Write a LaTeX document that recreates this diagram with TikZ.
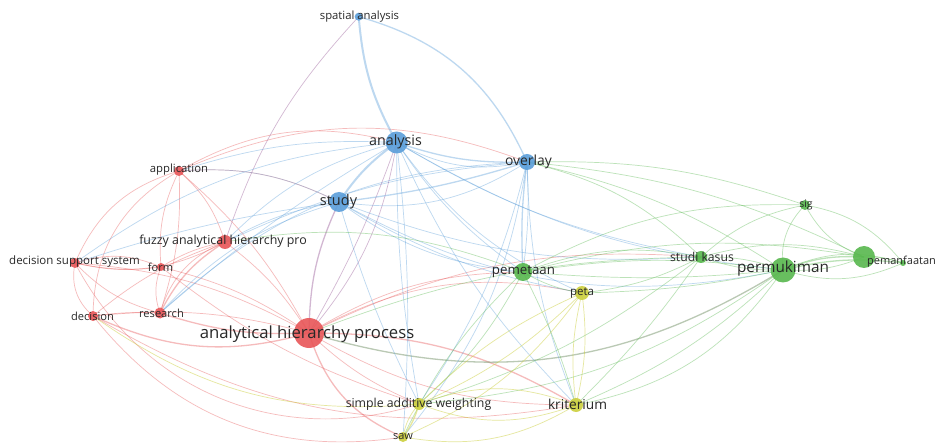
\documentclass[tikz,border=0pt]{standalone}
\usepackage{fontspec}
\setmainfont{Open Sans}
\definecolor{vr}{RGB}{232,86,88}
\definecolor{vb}{RGB}{90,158,218}
\definecolor{vg}{RGB}{88,184,78}
\definecolor{vy}{RGB}{204,208,62}
\definecolor{vgr}{RGB}{140,165,130}
\definecolor{txt}{RGB}{40,40,40}
\begin{document}
\begin{tikzpicture}[x=1pt,y=-1pt,
  er/.style={draw=vr,opacity=0.4,line width=0.7pt},
  eb/.style={draw=vb,opacity=0.4,line width=0.7pt},
  eg/.style={draw=vg,opacity=0.4,line width=0.7pt},
  ey/.style={draw=vy,opacity=0.5,line width=0.7pt},
  ep/.style={draw=violet!60!gray,opacity=0.35,line width=0.7pt},
  egr/.style={draw=vgr,opacity=0.6,line width=0.7pt},
  thk/.style={line width=2pt},
  med/.style={line width=1.3pt},
  dot/.style={circle,inner sep=0pt,opacity=0.9},
  lbl/.style={text=txt,inner sep=0pt,font=\fontsize{11}{13}\selectfont}]
\useasboundingbox (0,0) rectangle (936,443);
\fill[white] (0,0) rectangle (936,443);
% positions
\coordinate (spa) at (358.7,16.7);
\coordinate (ana) at (396.7,142.5);
\coordinate (ove) at (527,162);
\coordinate (stu) at (339,202);
\coordinate (app) at (179,171);
\coordinate (fuz) at (225,242);
\coordinate (dss) at (75,263);
\coordinate (frm) at (161,267);
\coordinate (dec) at (93,316);
\coordinate (res) at (160,313);
\coordinate (ahp) at (309,333);
\coordinate (pem) at (523,272);
\coordinate (pet) at (582,293);
\coordinate (stk) at (701,257);
\coordinate (per) at (783,270);
\coordinate (sig) at (805,205);
\coordinate (big) at (864,257);
\coordinate (pmf) at (903,263);
\coordinate (sw) at (419,404);
\coordinate (krt) at (576,405);
\coordinate (saw) at (403,437);
% ---------------- edges: red
\draw[er] (app) to[bend right=25] (dss);
\draw[er] (app) to[bend right=30] (dec);
\draw[er] (app) to[bend right=15] (frm);
\draw[er] (app) to[bend left=10] (res);
\draw[er] (app) to[bend left=15] (fuz);
\draw[er] (app) to[bend left=10] (ahp);
\draw[er] (app) to[bend left=15] (stu);
\draw[er] (app) to[bend left=22] (ove);
\draw[er] (app) to[bend left=22] (ana);
\draw[er] (fuz) to[bend left=20] (dss);
\draw[er] (fuz) to[bend right=10] (frm);
\draw[er,med] (fuz) to[bend right=15] (res);
\draw[er] (fuz) to[bend right=25] (res);
\draw[er] (fuz) to[bend right=10] (dec);
\draw[er] (fuz) to[bend left=10] (ahp);
\draw[eb] (fuz) to[bend left=15] (ana);
\draw[eb] (fuz) to[bend left=10] (ove);
\draw[eb] (fuz) to[bend left=10] (stu);
\draw[er] (dss) to[bend right=10] (frm);
\draw[er] (dss) to[bend left=20] (frm);
\draw[er] (dss) to[bend right=30] (dec);
\draw[er] (dss) to[bend right=15] (res);
\draw[er] (dss) to[bend left=12] (ahp);
\draw[er] (dss) to[bend right=40] (sw);
\draw[er] (dec) to[bend left=5] (res);
\draw[er,med] (dec) to[bend right=20] (ahp);
\draw[er] (dec) to[bend left=10] (ahp);
\draw[er] (dec) to[bend right=30] (saw);
\draw[er] (dec) to[bend right=20] (krt);
\draw[er] (res) to[bend left=20] (frm);
\draw[er,med] (res) to[bend right=10] (ahp);
\draw[eb] (res) to[bend left=15] (stu);
\draw[eb] (res) to[bend left=20] (ove);
\draw[er] (frm) to[bend left=10] (ahp);
\draw[er] (frm) to[bend right=10] (sw);
\draw[er,med] (ahp) to[bend right=25] (saw);
\draw[er] (ahp) to[bend right=10] (sw);
\draw[er,med] (ahp) to[bend left=15] (krt);
\draw[er] (ahp) to[bend right=15] (krt);
\draw[er] (ahp) to[bend left=20] (pet);
\draw[er] (ahp) to[bend left=15] (pem);
\draw[er] (ahp) to[bend left=15] (stk);
\draw[egr,med] (ahp) to[bend right=24] (per);
\draw[ep,med] (ahp) to[bend left=12] (stu);
\draw[ep] (ahp) to[bend right=5] (ana);
\draw[ep] (ahp) to[bend right=15] (ana);
% ---------------- edges: blue
\draw[eb,thk] (ana) to[bend left=12] (spa);
\draw[eb,med] (spa) to[bend left=25] (ove);
\draw[ep] (spa) to[bend right=12] (fuz);
\draw[eb,thk] (stu) to[bend left=10] (ana);
\draw[eb,med] (ove) to[bend left=10] (ana);
\draw[eb] (ove) to[bend left=20] (ana);
\draw[eb] (ove) to[bend left=20] (stu);
\draw[eb,med] (ove) to[bend left=5] (stu);
\draw[eb,med] (ove) to[bend right=5] (pem);
\draw[eb] (ove) to[bend left=5] (pem);
\draw[eb] (ove) to[bend left=10] (sw);
\draw[eb] (ove) to[bend left=15] (saw);
\draw[eb] (ove) to[bend right=10] (krt);
\draw[eg] (ove) to[bend left=10] (per);
\draw[eg] (ove) to[bend left=10] (sig);
\draw[eg] (ove) to[bend left=15] (stk);
\draw[eg] (ove) to[bend left=10] (big);
\draw[eb] (ana) to[bend right=10] (pem);
\draw[eb] (ana) to[bend right=15] (pet);
\draw[eb] (ana) to[bend right=10] (krt);
\draw[eb] (ana) to[bend right=5] (sw);
\draw[eb] (ana) to[bend left=5] (saw);
\draw[eb] (ana) to[bend right=12] (per);
\draw[eb] (ana) to[bend right=10] (stk);
\draw[eb] (ana) to[bend right=15] (dss);
\draw[eb] (ana) to[bend right=10] (app);
\draw[eb] (ana) to[bend right=5] (res);
\draw[eb] (stu) to[bend right=20] (per);
\draw[eb] (stu) to[bend right=15] (pem);
\draw[eb] (stu) to[bend right=12] (stk);
\draw[eb] (stu) to[bend right=10] (pet);
\draw[eb] (stu) to[bend right=5] (sw);
\draw[eb] (stu) to[bend right=15] (app);
\draw[eb] (stu) to[bend right=5] (dss);
% ---------------- edges: green
\draw[eg,med] (per) to[bend left=12] (big);
\draw[eg] (per) to[bend right=12] (big);
\draw[eg,med] (per) to[bend left=10] (pmf);
\draw[eg] (per) to[bend right=20] (pmf);
\draw[eg] (per) to[bend left=20] (pmf);
\draw[eg] (per) to[bend left=25] (sig);
\draw[eg] (per) to[bend left=10] (stk);
\draw[eg] (per) to[bend right=10] (stk);
\draw[eg] (per) to[bend right=8] (pem);
\draw[eg] (per) to[bend left=5] (pem);
\draw[eg] (per) to[bend left=5] (pet);
\draw[eg] (per) to[bend left=10] (krt);
\draw[eg] (krt) to[bend right=22] (per);
\draw[eg] (per) to[bend left=15] (sw);
\draw[eg] (sig) to[bend right=15] (stk);
\draw[eg] (sig) to[bend right=20] (big);
\draw[eg] (sig) to[bend left=20] (pmf);
\draw[eg] (sig) to[bend right=15] (pem);
\draw[eg] (big) to[bend left=10] (pmf);
\draw[eg] (big) to[bend right=15] (stk);
\draw[eg] (big) to[bend right=12] (pem);
\draw[eg] (stk) to[bend right=15] (pem);
\draw[eg] (stk) to[bend left=10] (pet);
\draw[eg] (stk) to[bend left=10] (sw);
\draw[eg] (stk) to[bend left=5] (krt);
\draw[eg] (stk) to[bend right=10] (ahp);
\draw[eg] (pem) to[bend right=10] (pet);
\draw[eg] (pem) to[bend left=10] (sw);
\draw[eg] (pem) to[bend right=10] (saw);
\draw[eg] (pem) to[bend left=5] (krt);
\draw[eg] (pem) to[bend right=15] (fuz);
% ---------------- edges: yellow
\draw[ey] (pet) to[bend left=10] (sw);
\draw[ey] (pet) to[bend right=10] (sw);
\draw[ey] (pet) to[bend left=10] (krt);
\draw[ey] (pet) to[bend right=10] (krt);
\draw[ey] (pet) to[bend left=15] (saw);
\draw[ey,med] (sw) to[bend left=10] (saw);
\draw[ey] (sw) to[bend right=15] (saw);
\draw[ey] (sw) to[bend right=20] (krt);
\draw[ey] (krt) to[bend left=20] (saw);
\draw[ey] (krt) to[bend right=20] (sw);
\draw[ey] (sw) to[bend left=20] (dec);
% ---------------- nodes
\node[dot,fill=vb,minimum size=8pt]  (c-spa) at (spa) {};
\node[dot,fill=vb,minimum size=22pt] (c-ana) at (ana) {};
\node[dot,fill=vb,minimum size=16pt] (c-ove) at (ove) {};
\node[dot,fill=vb,minimum size=20pt] (c-stu) at (stu) {};
\node[dot,fill=vr,minimum size=10pt] (c-app) at (app) {};
\node[dot,fill=vr,minimum size=14pt] (c-fuz) at (fuz) {};
\node[dot,fill=vr,minimum size=10pt] (c-dss) at (dss) {};
\node[dot,fill=vr,minimum size=8pt]  (c-frm) at (frm) {};
\node[dot,fill=vr,minimum size=10pt] (c-dec) at (dec) {};
\node[dot,fill=vr,minimum size=11pt] (c-res) at (res) {};
\node[dot,fill=vr,minimum size=30pt] (c-ahp) at (ahp) {};
\node[dot,fill=vg,minimum size=18pt] (c-pem) at (pem) {};
\node[dot,fill=vy,minimum size=14pt] (c-pet) at (pet) {};
\node[dot,fill=vg,minimum size=12pt] (c-stk) at (stk) {};
\node[dot,fill=vg,minimum size=25pt] (c-per) at (per) {};
\node[dot,fill=vg,minimum size=10pt] (c-sig) at (sig) {};
\node[dot,fill=vg,minimum size=22pt] (c-big) at (big) {};
\node[dot,fill=vg,minimum size=6pt]  (c-pmf) at (pmf) {};
\node[dot,fill=vy,minimum size=12pt] (c-sw) at (sw) {};
\node[dot,fill=vy,minimum size=14pt] (c-krt) at (krt) {};
\node[dot,fill=vy,minimum size=10pt] (c-saw) at (saw) {};
% ---------------- labels
\node[lbl,font=\fontsize{11.3}{13}\selectfont] (l-spa) at (359.5,17) {spatial analysis};
\node[lbl,font=\fontsize{14.3}{16}\selectfont] (l-ana) at (395.5,142) {analysis};
\node[lbl,font=\fontsize{13.9}{16}\selectfont] (l-ove) at (528.5,162) {overlay};
\node[lbl,font=\fontsize{14.5}{16}\selectfont] (l-stu) at (338.5,202) {study};
\node[lbl,font=\fontsize{11.3}{13}\selectfont] (l-app) at (179,170) {application};
\node[lbl,font=\fontsize{12.4}{14}\selectfont] (l-fuz) at (223,241) {fuzzy analytical hierarchy pro};
\node[lbl,font=\fontsize{11.5}{13}\selectfont] (l-dss) at (74.5,262) {decision support system};
\node[lbl,font=\fontsize{11}{13}\selectfont] (l-frm) at (160.5,267) {form};
\node[lbl,font=\fontsize{11.1}{13}\selectfont] (l-dec) at (92.5,316) {decision};
\node[lbl,font=\fontsize{11.1}{13}\selectfont] (l-res) at (161.5,313) {research};
\node[lbl,font=\fontsize{16.7}{19}\selectfont] (l-ahp) at (307,334) {analytical hierarchy process};
\node[lbl,font=\fontsize{13.3}{15}\selectfont] (l-pem) at (523.5,272) {pemetaan};
\node[lbl,font=\fontsize{11.5}{13}\selectfont] (l-pet) at (582,293) {peta};
\node[lbl,font=\fontsize{12.2}{14}\selectfont] (l-stk) at (702,257) {studi kasus};
\node[lbl,font=\fontsize{15.3}{17}\selectfont] (l-per) at (783,269) {permukiman};
\node[lbl,font=\fontsize{10.4}{12}\selectfont] (l-sig) at (806,205) {sig};
\node[lbl,font=\fontsize{11}{13}\selectfont] (l-pmf) at (901.5,262) {pemanfaatan};
\node[lbl,font=\fontsize{12.3}{14}\selectfont] (l-sw) at (418.5,404) {simple additive weighting};
\node[lbl,font=\fontsize{13.7}{16}\selectfont] (l-krt) at (577.5,404) {kriterium};
\node[lbl,font=\fontsize{11}{13}\selectfont] (l-saw) at (403,437) {saw};
\end{tikzpicture}
\end{document}
